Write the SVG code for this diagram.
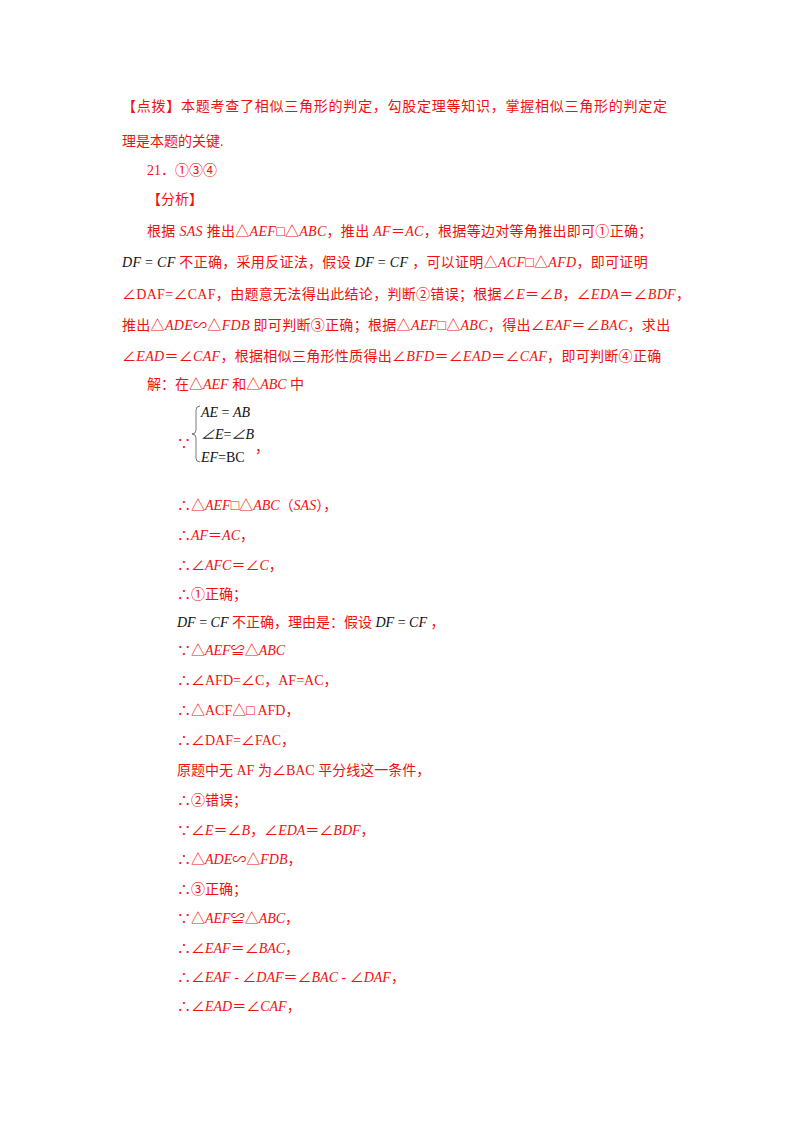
<svg xmlns="http://www.w3.org/2000/svg" width="800" height="1132" viewBox="0 0 800 1132">
<style>
text{font-family:"Liberation Serif","Noto Sans CJK SC",serif;font-size:14px;fill:#f01010}
.i{font-style:italic}
.k{fill:#111}
.w{letter-spacing:0.3px}
</style>
<rect width="800" height="1132" fill="#fff"/>
<g id="text">
<text x="122" y="111" style="letter-spacing:0.75px">【点拨】本题考查了相似三角形的判定，勾股定理等知识，掌握相似三角形的判定定</text>
<text x="122" y="146">理是本题的关键.</text>
<text x="147" y="175">21．①③④</text>
<text x="147" y="204">【分析】</text>
<text x="147" y="236" class="w">根据 <tspan class="i">SAS</tspan> 推出△<tspan class="i">AEF</tspan>□△<tspan class="i">ABC</tspan>，推出 <tspan class="i">AF</tspan>＝<tspan class="i">AC</tspan>，根据等边对等角推出即可①正确；</text>
<text x="122" y="267" class="w"><tspan class="i k">DF</tspan><tspan class="k"> = </tspan><tspan class="i k">CF</tspan> 不正确，采用反证法，假设 <tspan class="i k">DF</tspan><tspan class="k"> = </tspan><tspan class="i k">CF</tspan> ，可以证明△<tspan class="i">ACF</tspan>□△<tspan class="i">AFD</tspan>，即可证明</text>
<text x="122" y="299" class="w">∠DAF=∠CAF，由题意无法得出此结论，判断②错误；根据∠<tspan class="i">E</tspan>＝∠<tspan class="i">B</tspan>，∠<tspan class="i">EDA</tspan>＝∠<tspan class="i">BDF</tspan>，</text>
<text x="122" y="330" class="w">推出△<tspan class="i">ADE</tspan>∽△<tspan class="i">FDB</tspan> 即可判断③正确；根据△<tspan class="i">AEF</tspan>□△<tspan class="i">ABC</tspan>，得出∠<tspan class="i">EAF</tspan>＝∠<tspan class="i">BAC</tspan>，求出</text>
<text x="122" y="361" class="w">∠<tspan class="i">EAD</tspan>＝∠<tspan class="i">CAF</tspan>，根据相似三角形性质得出∠<tspan class="i">BFD</tspan>＝∠<tspan class="i">EAD</tspan>＝∠<tspan class="i">CAF</tspan>，即可判断④正确</text>
<text x="147" y="389">解：在△<tspan class="i">AEF</tspan> 和△<tspan class="i">ABC</tspan> 中</text>
<text x="177" y="448" font-size="16">∵</text>
<path d="M200,406 q-4,0 -4,4 v20 q0,4 -4,4 q4,0 4,4 v20 q0,4 4,4" fill="none" stroke="#555" stroke-width="0.8"/>
<text class="k" x="201" y="417"><tspan class="i">AE</tspan> = <tspan class="i">AB</tspan></text>
<text class="k" x="201" y="439"><tspan class="i">∠E</tspan>=<tspan class="i">∠B</tspan></text>
<text class="k" x="201" y="462"><tspan class="i">EF</tspan>=BC</text>
<text x="255" y="452">，</text>
<text x="177" y="510">∴△<tspan class="i">AEF</tspan>□△<tspan class="i">ABC</tspan>（<tspan class="i">SAS</tspan>），</text>
<text x="177" y="540">∴<tspan class="i">AF</tspan>＝<tspan class="i">AC</tspan>，</text>
<text x="177" y="570">∴∠<tspan class="i">AFC</tspan>＝∠<tspan class="i">C</tspan>，</text>
<text x="177" y="599">∴①正确；</text>
<text x="177" y="627"><tspan class="i k">DF</tspan><tspan class="k"> = </tspan><tspan class="i k">CF</tspan> 不正确，理由是：假设 <tspan class="i k">DF</tspan><tspan class="k"> = </tspan><tspan class="i k">CF</tspan> ，</text>
<text x="177" y="655">∵△<tspan class="i">AEF</tspan>≌△<tspan class="i">ABC</tspan></text>
<text x="177" y="685">∴∠AFD=∠C，AF=AC，</text>
<text x="177" y="715">∴△ACF△□ AFD，</text>
<text x="177" y="745">∴∠DAF=∠FAC，</text>
<text x="177" y="775">原题中无 AF 为∠BAC 平分线这一条件，</text>
<text x="177" y="805">∴②错误；</text>
<text x="177" y="835">∵∠<tspan class="i">E</tspan>＝∠<tspan class="i">B</tspan>，∠<tspan class="i">EDA</tspan>＝∠<tspan class="i">BDF</tspan>，</text>
<text x="177" y="864">∴△<tspan class="i">ADE</tspan>∽△<tspan class="i">FDB</tspan>，</text>
<text x="177" y="894">∴③正确；</text>
<text x="177" y="923">∵△<tspan class="i">AEF</tspan>≌△<tspan class="i">ABC</tspan>，</text>
<text x="177" y="953">∴∠<tspan class="i">EAF</tspan>＝∠<tspan class="i">BAC</tspan>，</text>
<text x="177" y="982">∴∠<tspan class="i">EAF</tspan> - ∠<tspan class="i">DAF</tspan>＝∠<tspan class="i">BAC</tspan> - ∠<tspan class="i">DAF</tspan>，</text>
<text x="177" y="1011">∴∠<tspan class="i">EAD</tspan>＝∠<tspan class="i">CAF</tspan>，</text>
</g>
</svg>
